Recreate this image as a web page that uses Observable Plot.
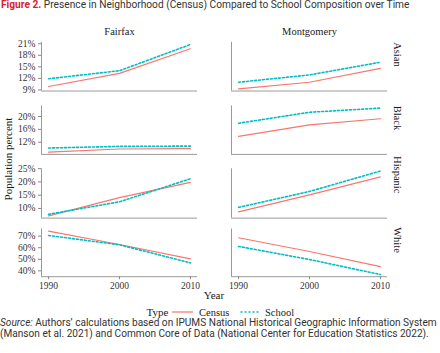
<!DOCTYPE html>
<html>
<head>
<meta charset="utf-8">
<script src="https://cdn.jsdelivr.net/npm/d3@7"></script>
<script src="https://cdn.jsdelivr.net/npm/@observablehq/plot@0.6"></script>
<style>
  body { margin: 0; background: #fff; }
  #wrap { position: relative; width: 440px; height: 353px; overflow: hidden; background: #fff; }
  .abs { position: absolute; }
  #title { top: -1px; left: 1px; font-family: Roboto, sans-serif; font-size: 10.2px; color: #333; white-space: nowrap; line-height: 12px; }
  #title b { color: #d9232a; }
  #caption { top: 317px; left: 0px; font-family: Roboto, sans-serif; font-size: 10.1px; color: #333; line-height: 11.2px; white-space: nowrap; }
</style>
</head>
<body>
<div id="wrap">
  <div id="title" class="abs"><b>Figure 2.</b> Presence in Neighborhood (Census) Compared to School Composition over Time</div>
  <div id="rows"></div>
  <div id="caption" class="abs"><i>Source:</i> Authors’ calculations based on IPUMS National Historical Geographic Information System<br>(Manson et al. 2021) and Common Core of Data (National Center for Education Statistics 2022).</div>
</div>
<script>
// ---- data (percent) ----
const years = [1990, 2000, 2010];
const counties = ["Fairfax", "Montgomery"];
const races = ["Asian", "Black", "Hispanic", "White"];
const types = ["Census", "School"];
// each array: one entry per race (Asian, Black, Hispanic, White), values for 1990, 2000, 2010
const fairfaxCensus    = [[9.9, 13.3, 19.7], [8.9, 9.9, 10.0], [7.2, 14.1, 19.8], [74.3, 62.8, 50.3]];
const fairfaxSchool    = [[11.9, 14.0, 20.8], [10.2, 10.7, 10.8], [7.8, 12.5, 21.2], [70.6, 62.5, 46.9]];
const montgomeryCensus = [[9.3, 11.0, 14.6], [13.8, 17.4, 19.3], [8.7, 15.1, 21.9], [68.6, 56.7, 43.7]];
const montgomerySchool = [[11.0, 12.9, 16.2], [17.9, 21.3, 22.6], [10.4, 16.4, 24.1], [61.1, 49.8, 36.8]];
const yTicks = [[9, 12, 15, 18, 21], [12, 16, 20], [10, 15, 20, 25], [40, 50, 60, 70]];
const typeColors = ["#F8766D", "#00BFC4"];

const series = {
  Fairfax: {Census: fairfaxCensus, School: fairfaxSchool},
  Montgomery: {Census: montgomeryCensus, School: montgomerySchool}
};

// layout (pixel bands of each facet row)
const W = 440, H = 353;
const panelRows = [[41.8, 90.5], [105.4, 153.9], [168.3, 217.6], [228.5, 276.2]];
const mLeft = 40, mRight = 52.7;
const dash = "2,2";

const rowsDiv = document.getElementById("rows");

races.forEach((race, i) => {
  const data = [];
  counties.forEach(c => types.forEach(t => years.forEach((y, j) => {
    data.push({County: c, Type: t, Year: y, Value: series[c][t][i][j]});
  })));
  const lo = d3.min(data, d => d.Value), hi = d3.max(data, d => d.Value);
  const pad = (hi - lo) * 0.05;
  const yDomain = [lo - pad, hi + pad];
  const xpad = (d3.max(years) - d3.min(years)) * 0.05;
  const xDomain = [d3.min(years) - xpad, d3.max(years) + xpad];
  const [top, bottom] = panelRows[i];
  const marks = [
    Plot.ruleX([xDomain[0]], {stroke: "#9a9a9a", strokeWidth: 1}),
    Plot.ruleY([yDomain[0]], {stroke: "#9a9a9a", strokeWidth: 1}),
    Plot.axisY({ticks: yTicks[i], tickFormat: d => d + "%", tickSize: 3, tickPadding: 3, label: null, stroke: "#888", fill: "#333"}),
    Plot.line(data.filter(d => d.Type === "Census"), {fx: "County", x: "Year", y: "Value", stroke: "Type", strokeWidth: 1.2}),
    Plot.line(data.filter(d => d.Type === "School"), {fx: "County", x: "Year", y: "Value", stroke: "Type", strokeWidth: 1.6, strokeDasharray: dash}),
    Plot.text([race], {fx: () => "Montgomery", text: d => d, frameAnchor: "right", rotate: 90, dx: 10, fontSize: 10.5, fill: "#1a1a1a"})
  ];
  if (i === 0) {
    marks.push(Plot.text(counties, {fx: d => d, text: d => d, frameAnchor: "top", dy: -15, fontSize: 10.5, fill: "#1a1a1a"}));
  }
  if (i === races.length - 1) {
    marks.push(Plot.axisX({ticks: years, tickFormat: d => String(d), tickSize: 3, tickPadding: 3, label: null, stroke: "#888", fill: "#333"}));
  }
  const chart = Plot.plot({
    width: W, height: H,
    marginLeft: mLeft, marginRight: mRight, marginTop: top, marginBottom: H - bottom,
    style: {background: "transparent", fontFamily: "'Liberation Serif', serif", fontSize: "9.5px", overflow: "visible"},
    fx: {domain: counties, paddingInner: 0.178, paddingOuter: 0, axis: null, label: null},
    x: {domain: xDomain, axis: null},
    y: {domain: yDomain, axis: null},
    color: {domain: types, range: typeColors},
    marks
  });
  chart.style.position = "absolute";
  chart.style.left = "0px";
  chart.style.top = "0px";
  rowsDiv.appendChild(chart);
});

// axis titles and legend
const over = d3.select("#wrap").append("svg")
  .attr("width", W).attr("height", H)
  .style("position", "absolute").style("left", "0px").style("top", "0px")
  .style("font-family", "'Liberation Serif', serif").style("fill", "#1a1a1a");
over.append("text").attr("transform", "translate(8,159) rotate(-90)")
  .attr("text-anchor", "middle").attr("dominant-baseline", "central").attr("font-size", 11).text("Population percent");
over.append("text").attr("x", 214).attr("y", 295).attr("text-anchor", "middle")
  .attr("dominant-baseline", "central").attr("font-size", 11).text("Year");
const leg = over.append("g").attr("transform", "translate(0,312)");
leg.append("text").attr("x", 146.5).attr("dominant-baseline", "central").attr("font-size", 11).text("Type");
const legX = [[172, 193, 199], [240.5, 260.5, 265]];
types.forEach((t, k) => {
  leg.append("line").attr("x1", legX[k][0]).attr("x2", legX[k][1]).attr("y1", 0).attr("y2", 0)
    .attr("stroke", typeColors[k]).attr("stroke-width", k ? 1.6 : 1.2)
    .attr("stroke-dasharray", k ? dash : null);
  leg.append("text").attr("x", legX[k][2]).attr("dominant-baseline", "central").attr("font-size", 10.5).text(t);
});
</script>
</body>
</html>
